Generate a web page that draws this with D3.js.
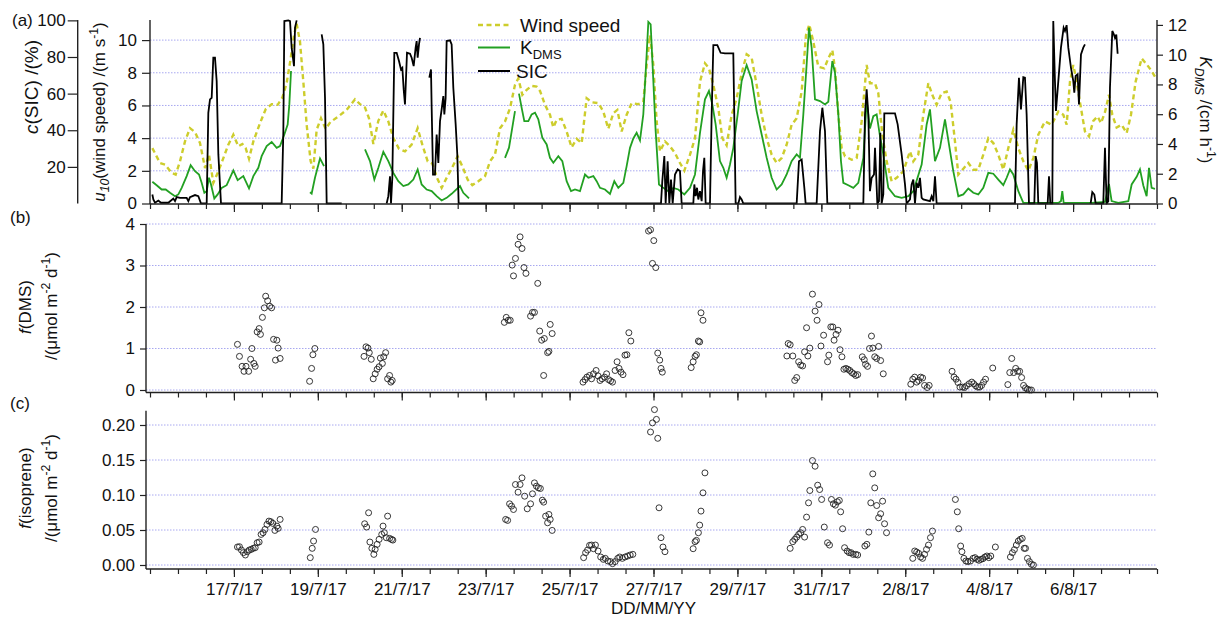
<!DOCTYPE html>
<html>
<head>
<meta charset="utf-8">
<script src="https://cdn.jsdelivr.net/npm/d3@7"></script>
<style>
  body { margin: 0; background: #fff; }
  svg text { font-family: "Liberation Sans", Arial, sans-serif; fill: #111; }
</style>
</head>
<body>
<div id="chart"></div>
<script>
// Days are given as day-of-July (32 = 1 Aug), fractional
var windSpeed = [[15.056,3.39],[15.238,2.48],[15.358,2.38],[15.517,1.87],[15.612,1.77],[15.715,2.58],[15.834,3.80],[15.953,4.61],[16.073,4.37],[16.192,3.70],[16.311,2.17],[16.406,2.99],[16.509,1.26],[16.629,1.97],[16.748,2.78],[16.867,3.60],[16.986,4.21],[17.105,3.50],[17.201,3.64],[17.280,3.39],[17.360,2.74],[17.463,3.80],[17.622,4.92],[17.757,5.77],[17.900,6.08],[18.043,6.04],[18.154,6.48],[18.257,7.36],[18.353,8.88],[18.432,10.30],[18.495,11.0],[18.575,9.90],[18.654,7.46],[18.734,4.82],[18.829,2.58],[18.893,2.13],[18.972,4.51],[19.075,5.22],[19.187,4.57],[19.298,4.98],[19.489,5.33],[19.687,5.73],[19.886,6.38],[20.005,6.08],[20.124,5.87],[20.219,5.22],[20.323,3.64],[20.442,5.06],[20.561,5.69],[20.680,5.02],[20.799,4.00],[20.934,3.35],[21.077,3.19],[21.236,3.60],[21.379,4.61],[21.490,3.60],[21.618,2.58],[21.729,2.44],[21.840,1.57],[21.951,0.96],[22.070,1.57],[22.189,2.13],[22.332,2.89],[22.444,2.28],[22.571,1.46],[22.682,1.12],[22.825,1.36],[22.984,1.67],[23.103,2.58],[23.222,2.99],[23.342,4.61],[23.461,5.02],[23.580,5.83],[23.699,7.26],[23.778,7.66],[23.874,6.65],[23.977,6.95],[24.096,7.20],[24.215,7.15],[24.295,6.89],[24.414,6.04],[24.533,5.43],[24.613,4.65],[24.692,5.12],[24.811,5.18],[24.930,4.41],[25.049,3.43],[25.169,3.96],[25.288,3.70],[25.407,6.44],[25.526,6.20],[25.685,6.14],[25.804,5.63],[25.923,4.57],[26.043,5.53],[26.138,5.73],[26.241,4.41],[26.360,5.43],[26.479,6.14],[26.638,6.08],[26.757,6.20],[26.837,8.48],[26.916,10.3],[26.996,8.48],[27.075,5.02],[27.155,3.19],[27.274,3.80],[27.393,3.50],[27.512,3.09],[27.631,2.48],[27.735,2.01],[27.870,2.99],[27.989,4.00],[28.108,7.46],[28.227,8.58],[28.322,8.27],[28.426,7.26],[28.545,5.83],[28.640,4.00],[28.743,3.56],[28.863,5.43],[28.982,6.44],[29.101,7.97],[29.220,9.13],[29.339,8.92],[29.458,7.26],[29.578,5.43],[29.697,4.00],[29.816,2.99],[29.935,2.48],[30.054,2.78],[30.173,3.60],[30.292,4.82],[30.412,5.22],[30.531,6.85],[30.634,10.30],[30.713,10.96],[30.809,9.90],[30.928,8.37],[31.071,8.27],[31.166,8.88],[31.262,9.39],[31.325,8.27],[31.405,5.43],[31.484,3.39],[31.564,2.89],[31.723,2.68],[31.842,2.78],[31.961,5.02],[32.080,8.48],[32.159,7.36],[32.279,7.36],[32.358,6.75],[32.453,4.21],[32.557,2.58],[32.676,1.36],[32.795,1.57],[32.954,1.97],[33.113,3.19],[33.192,2.58],[33.311,2.99],[33.430,5.43],[33.550,7.36],[33.645,6.65],[33.748,6.04],[33.867,6.75],[33.987,6.85],[34.082,6.20],[34.185,3.80],[34.265,1.77],[34.384,2.13],[34.503,2.48],[34.622,2.07],[34.741,2.07],[34.860,2.99],[34.980,4.00],[35.099,3.70],[35.218,2.99],[35.337,2.07],[35.456,3.39],[35.575,4.51],[35.695,3.39],[35.814,2.58],[35.933,2.01],[36.052,2.78],[36.171,4.21],[36.330,5.02],[36.489,4.82],[36.648,5.63],[36.767,5.43],[36.847,4.82],[36.926,7.46],[37.005,8.48],[37.085,7.46],[37.164,6.20],[37.283,4.41],[37.379,4.11],[37.482,5.06],[37.585,5.33],[37.665,4.92],[37.760,5.59],[37.855,6.65],[37.935,5.43],[38.038,4.65],[38.157,4.82],[38.277,4.31],[38.380,5.43],[38.491,7.46],[38.634,8.88],[38.753,8.52],[38.872,8.11],[38.952,7.76]];

var kDMS = [[15.056,1.46],[15.159,1.23],[15.278,0.94],[15.374,0.94],[15.477,0.72],[15.596,0.49],[15.675,0.61],[15.755,1.05],[15.874,1.84],[15.969,2.58],[16.073,2.17],[16.168,1.95],[16.231,1.39],[16.295,0.72],[16.351,0.83],[16.406,1.73],[16.454,1.28],[16.533,0.34],[16.613,0.61],[16.708,1.05],[16.827,1.23],[16.986,2.22],[17.089,1.57],[17.224,1.84],[17.360,1.01],[17.463,1.84],[17.582,2.40],[17.661,3.18],[17.781,3.86],[17.900,4.13],[18.019,3.74],[18.098,3.86],[18.202,4.64],[18.281,5.31],[18.321,6.66],[18.361,8.90],null,
  [18.813,0.76],[18.853,0.67],[18.932,1.73],[19.052,3.03],[19.147,2.51],null,
  [20.124,3.63],[20.243,2.85],[20.347,1.61],[20.442,2.40],[20.561,3.48],[20.680,2.85],[20.799,2.06],[20.918,1.50],[21.038,1.17],[21.157,1.28],[21.276,1.61],[21.379,2.29],[21.474,1.28],[21.594,0.94],[21.713,0.83],[21.832,0.49],[21.951,0.20],[22.070,0.38],[22.189,0.65],[22.388,1.17],[22.467,0.72],[22.603,0.34],null,
  [23.461,3.07],[23.556,3.75],[23.699,6.21],null,
  [23.794,7.38],[23.858,6.43],[23.921,5.54],[24.017,5.54],[24.096,5.99],[24.176,6.10],[24.255,5.65],[24.350,4.42],[24.454,3.97],[24.533,3.07],[24.613,2.74],[24.732,3.18],[24.827,2.85],[24.930,1.50],[25.034,0.83],[25.129,0.94],[25.248,0.83],[25.367,1.95],[25.447,1.73],[25.566,1.84],[25.645,1.50],[25.725,1.05],[25.844,0.94],[25.963,0.65],[26.066,1.50],[26.161,1.05],[26.281,1.39],[26.360,2.51],[26.440,3.74],[26.519,4.37],[26.598,4.75],[26.678,4.24],[26.757,5.99],[26.837,10.02],[26.877,12.2],[26.932,12.04],[26.996,8.23],[27.051,4.87],[27.131,1.28],[27.234,1.05],[27.353,0.83],[27.473,1.05],[27.592,0.94],[27.735,0.61],[27.870,1.05],[27.989,1.95],[28.108,4.75],[28.227,7.00],[28.322,7.56],[28.402,6.66],[28.481,5.31],[28.584,2.85],[28.664,2.40],[28.743,1.73],[28.823,2.62],[28.902,3.74],[29.006,5.99],[29.101,8.23],[29.220,9.30],[29.339,8.34],[29.458,6.21],[29.578,4.64],[29.697,3.07],[29.816,1.73],[29.935,0.94],[30.054,1.28],[30.173,1.95],[30.292,2.85],[30.412,3.30],[30.491,3.07],[30.571,5.99],[30.650,9.35],[30.706,11.82],[30.769,10.47],[30.849,7.00],[30.968,6.88],[31.087,6.66],[31.166,6.84],[31.262,9.57],[31.325,8.79],[31.405,5.99],[31.468,2.85],[31.524,1.39],[31.643,1.23],[31.762,1.05],[31.881,1.39],[32.001,3.07],[32.080,6.88],[32.159,5.04],[32.239,5.87],[32.318,5.99],[32.398,4.53],[32.477,3.30],[32.596,1.05],[32.755,0.49],[32.914,0.38],[33.073,0.49],[33.192,0.83],[33.391,2.62],[33.510,5.31],[33.589,6.32],[33.709,2.85],[33.828,3.74],[33.947,5.65],[34.042,3.97],[34.145,2.17],[34.265,0.49],[34.384,0.61],[34.503,1.01],[34.622,0.72],[34.741,0.61],[34.860,1.05],[34.980,2.06],[35.099,2.00],[35.218,1.61],[35.337,1.23],[35.417,1.73],[35.496,2.29],[35.575,1.95],[35.695,0.83],[35.814,0.04],[36.171,0.04],[36.648,0.04],[36.711,0.16],[36.743,0.83],[36.775,0.04],[37.442,0.04],[37.760,0.11],[37.855,1.32],[37.919,0.16],[38.078,0.04],[38.316,0.16],[38.396,1.28],[38.515,1.79],[38.594,2.29],[38.674,1.21],[38.753,0.49],[38.809,2.40],[38.872,1.05],[38.952,0.99]];

var seaIce = [[15.056,4.9],[15.080,2.2],[15.119,0.4],[15.199,1.6],[15.262,0.4],[15.437,0.4],[15.556,2.7],[15.596,1.3],[15.636,3.5],[15.715,3.1],[15.874,3.1],[15.914,1.3],[15.953,3.5],[16.073,4.6],[16.152,4.0],[16.216,0],[16.351,0],[16.390,49.5],[16.430,56.8],[16.470,57.7],[16.509,79.6],[16.549,79.6],[16.589,66.8],[16.629,26.8],[16.692,0],[18.138,0],[18.178,39.5],[18.202,99.6],[18.297,100],[18.337,99.6],[18.376,85.1],[18.432,75.0],[18.456,96.0],[18.495,100],null,
  [19.091,92.3],[19.131,86.9],[19.171,57.7],[19.211,0],[19.568,0],null,
  [20.640,0],[20.680,4.0],[20.720,14.9],[20.744,0],[20.775,14.0],[20.823,82.3],[20.879,82.3],[20.934,77.8],[20.982,73.2],[21.014,74.1],[21.046,62.3],[21.077,54.1],[21.125,82.3],[21.197,81.8],[21.236,79.6],[21.284,75.0],[21.331,85.1],[21.355,88.7],[21.379,79.6],[21.411,86.9],[21.435,90.5],null,
  [21.657,68.7],[21.697,73.2],[21.713,52.3],[21.745,15.8],[21.792,15.8],[21.832,37.7],[21.872,22.2],[21.912,45.0],[21.951,51.4],[21.991,58.7],[22.015,48.6],[22.046,57.7],[22.070,88.7],[22.150,89.1],[22.189,86.9],[22.229,63.2],[22.285,43.2],[22.324,26.8],[22.356,0],[27.178,0],[27.210,12.2],[27.258,25.9],[27.290,0],[27.337,23.1],[27.377,0],[27.417,13.1],[27.457,0],[27.512,15.8],[27.576,18.6],[27.631,17.7],[27.671,0],[27.949,0],[27.973,10.4],[28.005,4.0],[28.037,8.6],[28.068,2.2],[28.108,6.7],[28.148,1.3],[28.180,17.7],[28.211,25.0],[28.243,0],[28.346,0],[28.386,48.6],[28.426,86.5],[28.521,86.5],[28.600,82.3],[28.704,82.0],[28.902,82.0],[28.958,0],[29.022,0],[29.061,3.5],[29.101,2.2],[29.141,0],[30.412,0],[30.467,23.1],[30.531,24.0],[30.595,8.6],[30.626,0],[30.888,0],[30.968,39.5],[31.024,52.3],[31.087,39.5],[31.143,0],[32.001,0],[32.040,48.6],[32.080,62.3],[32.120,48.6],[32.159,6.7],[32.199,14.0],[32.255,15.8],[32.279,30.4],[32.303,17.7],[32.334,0],[32.374,1.3],[32.406,38.6],[32.437,0],[32.477,4.9],[32.501,49.2],[32.557,49.2],[32.755,49.2],[32.819,43.2],[32.914,26.8],[32.994,10.4],[33.033,0],[33.113,2.2],[33.152,10.4],[33.192,13.1],[33.232,0],[33.271,11.3],[33.311,8.6],[33.351,14.0],[33.391,3.1],[33.430,2.2],[33.589,1.3],[33.629,4.0],[33.669,1.3],[33.709,14.9],[33.748,0],[35.615,0],[35.655,43.2],[35.710,68.7],[35.758,51.4],[35.814,69.0],[35.853,68.7],[35.893,48.6],[35.949,0],[36.076,0],[36.108,25.9],[36.139,22.2],[36.171,0],[36.394,0],[36.426,14.9],[36.457,0],[36.505,0],[36.528,99.6],[36.568,66.8],[36.592,50.5],[36.648,66.8],[36.711,85.1],[36.775,96.0],[36.807,94.2],[36.846,97.4],[36.886,85.1],[36.950,74.1],[37.005,66.8],[37.029,60.5],[37.061,69.6],[37.108,70.5],[37.140,54.1],[37.188,81.4],[37.243,85.1],[37.283,86.9],null,
  [37.418,0],[37.458,6.2],[37.506,4.9],[37.538,0],[37.720,0],[37.760,30.4],[37.800,0],[37.839,1.3],[37.879,63.2],[37.935,94.2],[37.967,92.7],[37.998,90.5],[38.030,92.3],[38.062,81.8]];

var fluxDMS = [[17.085,1.10],[17.132,0.81],[17.195,0.57],[17.241,0.45],[17.288,0.57],[17.351,0.45],[17.398,0.74],[17.429,1.00],[17.476,0.64],[17.507,0.57],[17.554,1.40],[17.601,1.48],[17.632,1.34],[17.679,1.75],[17.726,1.98],[17.757,2.26],[17.804,2.15],[17.851,2.02],[17.898,1.98],[17.945,1.22],[17.991,0.72],[18.023,1.20],[18.054,1.01],[18.101,0.76],
  [18.804,0.21],[18.851,0.52],[18.882,0.85],[18.929,1.00],
  [20.101,0.81],[20.148,1.04],[20.195,1.01],[20.226,0.90],[20.273,0.74],[20.320,0.27],[20.367,0.39],[20.414,0.50],[20.460,0.56],[20.491,0.77],[20.538,0.64],[20.570,0.80],[20.616,0.90],[20.663,0.27],[20.710,0.35],[20.741,0.19],[20.773,0.23],
  [23.445,1.63],[23.491,1.75],[23.538,1.68],[23.585,1.68],[23.632,3.01],[23.663,2.75],[23.710,3.17],[23.773,3.51],[23.820,3.69],[23.866,3.41],[23.913,2.95],[23.960,2.81],[24.070,1.78],[24.116,1.87],[24.163,1.87],[24.241,2.57],[24.288,1.42],[24.335,1.20],[24.398,1.24],[24.382,0.35],[24.476,0.90],[24.507,0.93],[24.538,1.58],[24.585,1.36],
  [25.320,0.19],[25.367,0.25],[25.413,0.31],[25.476,0.35],[25.523,0.27],[25.570,0.39],[25.632,0.47],[25.679,0.34],[25.726,0.23],[25.773,0.27],[25.835,0.31],[25.882,0.39],[25.929,0.25],[25.976,0.22],[26.023,0.19],[26.085,0.47],[26.132,0.68],[26.179,0.52],[26.226,0.43],[26.273,0.37],[26.320,0.84],[26.366,0.85],[26.413,1.38],[26.460,1.18],
  [26.882,3.83],[26.929,3.86],[27.007,3.60],[26.976,3.05],[27.054,2.95],[27.101,0.89],[27.148,0.72],[27.179,0.52],[27.210,0.43],
  [27.898,0.54],[27.945,0.68],[27.991,0.81],[28.023,0.85],[28.070,1.18],[28.101,1.16],[28.132,1.86],[28.179,1.68],
  [30.179,0.82],[30.210,1.12],[30.257,1.09],[30.320,0.82],[30.366,0.23],[30.413,0.30],[30.460,0.68],[30.507,0.60],[30.554,0.58],[30.601,0.92],[30.648,1.50],[30.679,0.82],[30.726,1.01],[30.788,2.31],[30.851,1.90],[30.898,1.68],[30.944,2.06],[30.991,1.06],[31.054,1.32],[31.148,0.68],[31.179,0.84],[31.226,1.52],[31.273,1.52],[31.304,1.20],[31.351,1.34],[31.398,1.44],[31.445,0.97],[31.491,0.80],[31.538,0.50],[31.585,0.52],[31.632,0.50],[31.679,0.47],[31.726,0.42],[31.773,0.39],[31.820,0.35],[31.866,0.37],[31.976,0.80],[32.023,0.73],[32.054,0.62],[32.101,0.57],[32.148,1.00],[32.195,1.30],[32.226,1.01],[32.273,0.80],[32.320,0.76],[32.366,1.05],[32.413,0.71],[32.476,0.39],
  [33.132,0.14],[33.179,0.26],[33.226,0.31],[33.273,0.19],[33.320,0.23],[33.366,0.31],[33.413,0.29],[33.460,0.11],[33.523,0.06],[33.570,0.11],
  [34.116,0.45],[34.163,0.31],[34.210,0.26],[34.257,0.18],[34.304,0.07],[34.366,0.07],[34.413,0.06],[34.460,0.10],[34.523,0.15],[34.585,0.19],[34.632,0.15],[34.679,0.10],[34.726,0.07],[34.773,0.07],[34.820,0.11],[34.866,0.19],[34.913,0.26],[35.085,0.53],
  [35.445,0.13],[35.491,0.42],[35.538,0.76],[35.585,0.42],[35.632,0.52],[35.679,0.45],[35.726,0.45],[35.773,0.30],[35.820,0.11],[35.866,0.05],[35.913,0.02],[35.960,0.0],[36.007,0.0]];

var fluxIsoprene = [[17.085,0.0257],[17.132,0.0261],[17.179,0.0214],[17.226,0.0176],[17.273,0.0143],[17.320,0.0190],[17.366,0.0214],[17.413,0.0223],[17.460,0.0238],[17.507,0.0247],[17.554,0.0318],[17.601,0.0328],[17.648,0.0437],[17.695,0.0461],[17.741,0.0508],[17.788,0.0580],[17.835,0.0627],[17.882,0.0618],[17.929,0.0594],[17.976,0.0494],[18.023,0.0556],[18.054,0.0523],[18.101,0.0651],
  [18.820,0.0105],[18.866,0.0238],[18.898,0.0342],[18.945,0.0508],
  [20.116,0.0589],[20.163,0.0542],[20.210,0.0746],[20.241,0.0328],[20.288,0.0238],[20.335,0.0152],[20.366,0.0223],[20.413,0.0295],[20.460,0.0366],[20.523,0.0437],[20.554,0.0556],[20.585,0.0461],[20.632,0.0390],[20.663,0.0698],[20.710,0.0380],[20.757,0.0366],[20.788,0.0356],
  [23.476,0.0651],[23.523,0.0637],[23.570,0.0874],[23.616,0.0841],[23.663,0.0793],[23.710,0.1150],[23.773,0.1040],[23.820,0.1150],[23.866,0.1245],[23.929,0.0983],[23.991,0.0803],[24.070,0.0874],[24.116,0.1017],[24.163,0.1173],[24.210,0.1126],[24.257,0.1102],[24.304,0.1093],[24.351,0.0926],[24.382,0.0898],[24.429,0.0698],[24.476,0.0603],[24.507,0.0722],[24.538,0.0651],[24.585,0.0494],
  [25.335,0.0105],[25.382,0.0176],[25.429,0.0214],[25.476,0.0280],[25.523,0.0285],[25.570,0.0233],[25.616,0.0285],[25.679,0.0200],[25.741,0.0114],[25.804,0.0081],[25.851,0.0095],[25.913,0.0057],[25.976,0.0048],[26.023,0.0019],[26.085,0.0048],[26.148,0.0095],[26.195,0.0114],[26.257,0.0095],[26.320,0.0114],[26.382,0.0128],[26.445,0.0143],[26.507,0.0152],
  [26.929,0.190],[26.976,0.203],[27.023,0.222],[27.070,0.208],[27.101,0.181],[27.132,0.0817],[27.179,0.0390],[27.226,0.0257],[27.273,0.0190],
  [27.945,0.0233],[27.991,0.0333],[28.023,0.0352],[28.070,0.0461],[28.101,0.0570],[28.132,0.0770],[28.179,0.1031],[28.226,0.1316],
  [30.257,0.0238],[30.320,0.0333],[30.366,0.0366],[30.413,0.0399],[30.460,0.0437],[30.507,0.0461],[30.554,0.0508],[30.601,0.0399],[30.648,0.0684],[30.695,0.0888],[30.726,0.1064],[30.788,0.1492],[30.851,0.1411],[30.913,0.1140],[30.960,0.1078],[31.007,0.0936],[31.070,0.0542],[31.148,0.0318],[31.195,0.0285],[31.241,0.0936],[31.288,0.0874],[31.335,0.0855],[31.382,0.0903],[31.429,0.0922],[31.460,0.0760],[31.507,0.0518],[31.554,0.0247],[31.616,0.0200],[31.663,0.0176],[31.710,0.0176],[31.757,0.0152],[31.820,0.0152],[31.866,0.0143],[32.038,0.0271],[32.085,0.0295],[32.132,0.0470],[32.179,0.0888],[32.226,0.1302],[32.273,0.1102],[32.320,0.0850],[32.366,0.0675],[32.413,0.0732],[32.460,0.0912],[32.507,0.0589],[32.554,0.0461],
  [33.179,0.0095],[33.226,0.0200],[33.273,0.0185],[33.320,0.0166],[33.366,0.0114],[33.413,0.0095],[33.460,0.0152],[33.507,0.0223],[33.554,0.0285],[33.601,0.0390],[33.648,0.0485],
  [34.195,0.0936],[34.241,0.0760],[34.273,0.0518],[34.320,0.0271],[34.351,0.0190],[34.398,0.0095],[34.445,0.0057],[34.491,0.0048],[34.554,0.0057],[34.616,0.0095],[34.663,0.0105],[34.710,0.0081],[34.757,0.0067],[34.804,0.0081],[34.851,0.0090],[34.898,0.0114],[34.945,0.0128],[34.991,0.0105],[35.038,0.0128],[35.148,0.0257],
  [35.507,0.0114],[35.554,0.0176],[35.601,0.0219],[35.648,0.0285],[35.695,0.0342],[35.741,0.0366],[35.788,0.0380],[35.835,0.0238],[35.866,0.0238],[35.913,0.0095],[35.960,0.0048],[36.007,0.0010],[36.054,0.0]];

var windTicks = [0, 2, 4, 6, 8, 10];
var sicTicks = [20, 40, 60, 80, 100];
var kTicks = [0, 2, 4, 6, 8, 10, 12];
var dmsTicks = [0, 1, 2, 3, 4];
var isoTicks = [0, 0.05, 0.10, 0.15, 0.20];
var dateLabelDays = [17, 19, 21, 23, 25, 27, 29, 31, 33, 35, 37];

var svgWidth = 1220, svgHeight = 619;
var svg = d3.select("#chart").append("svg")
    .attr("width", svgWidth)
    .attr("height", svgHeight);

function toDate(day) {
    return new Date(2017, 6, 1, 0, 0).getTime() + (day - 1) * 864e5;
}

var left = 150, right = 1157;
var x = d3.scaleTime()
    .domain([new Date(toDate(15)), new Date(toDate(39))])
    .range([left, right]);

// minor ticks every 16 h, major every 2 days
var minorTicks = d3.range(0, 37).map(k => new Date(toDate(15) + k * 16 * 36e5));
var majorTicks = dateLabelDays.map(d => new Date(toDate(d)));

var gridColor = "#a8a8f0";
var axisColor = "#222";
var fontSize = 17;

function styleAxis(g) {
    g.selectAll("line").attr("stroke", axisColor).attr("stroke-width", 1.2);
    g.selectAll("text").attr("font-size", fontSize).attr("fill", "#111")
        .style("font-family", '"Liberation Sans", Arial, sans-serif');
}

function grid(scale, ticks, x0, x1) {
    svg.append("g").selectAll("line").data(ticks).enter().append("line")
        .attr("x1", x0).attr("x2", x1)
        .attr("y1", d => scale(d)).attr("y2", d => scale(d))
        .attr("stroke", gridColor).attr("stroke-width", 1)
        .attr("stroke-dasharray", "1.5,1.5");
}

function bottomAxis(y, x0, withLabels) {
    svg.append("line").attr("x1", x0).attr("x2", right).attr("y1", y).attr("y2", y)
        .attr("stroke", axisColor).attr("stroke-width", 1.4);
    var minor = svg.append("g").attr("transform", `translate(0,${y})`)
        .call(d3.axisBottom(x).tickValues(minorTicks).tickSize(5).tickFormat(""));
    minor.select(".domain").remove();
    styleAxis(minor);
    var major = svg.append("g").attr("transform", `translate(0,${y})`)
        .call(d3.axisBottom(x).tickValues(majorTicks).tickSize(8).tickPadding(6)
            .tickFormat(withLabels ? d3.timeFormat("%-d/%-m/%y") : ""));
    major.select(".domain").remove();
    styleAxis(major);
}

function leftAxis(scale, ticks, xPos, y0, y1, tickLen, pad, fmt) {
    svg.append("line").attr("x1", xPos).attr("x2", xPos).attr("y1", y0).attr("y2", y1)
        .attr("stroke", axisColor).attr("stroke-width", 1.4);
    var g = svg.append("g").attr("transform", `translate(${xPos},0)`)
        .call(d3.axisLeft(scale).tickValues(ticks).tickSize(tickLen).tickPadding(pad)
            .tickFormat(fmt || d3.format("d")));
    g.select(".domain").remove();
    styleAxis(g);
}

// ---------- Panel (a) ----------
var aTop = 20, aBottom = 203.5;
var yWind = d3.scaleLinear().domain([0, 11.23]).range([aBottom, aTop]);
var ySIC = d3.scaleLinear().domain([0, 100.2]).range([aBottom, aTop]);
var yK = d3.scaleLinear().domain([0, 12.33]).range([aBottom, aTop]);

grid(yWind, windTicks.slice(1), left, right);

svg.append("defs").append("clipPath").attr("id", "clipA")
    .append("rect").attr("x", left).attr("y", aTop - 2)
    .attr("width", right - left).attr("height", aBottom - aTop + 3);

var plotA = svg.append("g").attr("clip-path", "url(#clipA)");

var lineWind = d3.line().x(d => x(new Date(toDate(d[0])))).y(d => yWind(d[1]));
var lineK = d3.line().defined(d => d !== null)
    .x(d => x(new Date(toDate(d[0])))).y(d => yK(d[1]));
var lineSIC = d3.line().defined(d => d !== null)
    .x(d => x(new Date(toDate(d[0])))).y(d => ySIC(d[1]));

plotA.append("path").datum(windSpeed).attr("d", lineWind)
    .attr("fill", "none").attr("stroke", "#cdcd2c").attr("stroke-width", 2.4)
    .attr("stroke-dasharray", "5,3.5");
plotA.append("path").datum(kDMS).attr("d", lineK)
    .attr("fill", "none").attr("stroke", "#22a022").attr("stroke-width", 1.8);
plotA.append("path").datum(seaIce).attr("d", lineSIC)
    .attr("fill", "none").attr("stroke", "#000").attr("stroke-width", 1.8);

leftAxis(yWind, windTicks, left, aTop, aBottom + 0.5, 8, 5);
leftAxis(ySIC, sicTicks, 77.7, aTop, aBottom, 10, 2);

// right axis
svg.append("line").attr("x1", right).attr("x2", right).attr("y1", aTop).attr("y2", aBottom)
    .attr("stroke", axisColor).attr("stroke-width", 1.4);
var gk = svg.append("g").attr("transform", `translate(${right},0)`)
    .call(d3.axisRight(yK).tickValues(kTicks).tickSize(6).tickPadding(5));
gk.select(".domain").remove();
styleAxis(gk);

bottomAxis(aBottom + 0.5, left, false);

// legend
var legend = [
    {label: "Wind speed", color: "#cdcd2c", dash: "5,3.5", w: 2.4, y: 25, tx: 520},
    {label: "K", sub: "DMS", color: "#22a022", dash: null, w: 2, y: 47.5, tx: 520},
    {label: "SIC", color: "#000", dash: null, w: 2, y: 71, tx: 516}
];
legend.forEach(function(l) {
    svg.append("line").attr("x1", 478).attr("x2", 510).attr("y1", l.y).attr("y2", l.y)
        .attr("stroke", l.color).attr("stroke-width", l.w)
        .attr("stroke-dasharray", l.dash);
    var t = svg.append("text").attr("x", l.tx).attr("y", l.y + 6.5).attr("font-size", 19);
    t.append("tspan").text(l.label);
    if (l.sub) t.append("tspan").attr("font-size", 13).attr("dy", 5).text(l.sub);
});

// ---------- Panel (b) ----------
var yDMS = d3.scaleLinear().domain([0, 4]).range([390, 224]);
grid(yDMS, dmsTicks, 146, right);
leftAxis(yDMS, dmsTicks, 146, 224, 392.5, 6, 5);
bottomAxis(392.5, 146, false);

svg.append("g").selectAll("circle").data(fluxDMS).enter().append("circle")
    .attr("cx", d => x(new Date(toDate(d[0]))))
    .attr("cy", d => yDMS(d[1]))
    .attr("r", 3)
    .attr("fill", "none").attr("stroke", "#222").attr("stroke-width", 0.9);

// ---------- Panel (c) ----------
var yIso = d3.scaleLinear().domain([0, 0.2]).range([565, 425]);
grid(yIso, isoTicks, 146, right);
leftAxis(yIso, isoTicks, 146, 410.7, 569, 6, 5, d3.format(".2f"));
bottomAxis(569, 146, true);

svg.append("g").selectAll("circle").data(fluxIsoprene).enter().append("circle")
    .attr("cx", d => x(new Date(toDate(d[0]))))
    .attr("cy", d => yIso(d[1]))
    .attr("r", 3)
    .attr("fill", "none").attr("stroke", "#222").attr("stroke-width", 0.9);

// ---------- Labels ----------
// parts: t = text, i = italic, small = smaller size, dy = baseline shift
function label(xp, yp, rot, parts, size) {
    var base = size || fontSize;
    var t = svg.append("text")
        .attr("transform", `translate(${xp},${yp}) rotate(${rot})`)
        .attr("text-anchor", "middle")
        .attr("font-size", base);
    parts.forEach(function(p) {
        var s = t.append("tspan").text(p.t);
        if (p.i) s.attr("font-style", "italic");
        if (p.small) s.attr("font-size", base * 0.72);
        if (p.dy) s.attr("dy", p.dy);
    });
    return t;
}

svg.append("text").attr("x", 12).attr("y", 26).attr("font-size", fontSize).text("(a)");
svg.append("text").attr("x", 10).attr("y", 223).attr("font-size", fontSize).text("(b)");
svg.append("text").attr("x", 10).attr("y", 409).attr("font-size", fontSize).text("(c)");

label(38, 87, -90, [{t: "c", i: true}, {t: "(SIC) /(%)"}], 19);
label(105, 112, -90, [{t: "u", i: true}, {t: "10", i: true, small: true, dy: 4},
    {t: "(wind speed) /(m s", dy: -4}, {t: "-1", small: true, dy: -7}, {t: ")", dy: 7}]);
label(1200, 110, 90, [{t: "K", i: true}, {t: "DMS", i: true, small: true, dy: 5},
    {t: " /(cm h", dy: -5}, {t: "-1", small: true, dy: -7}, {t: ")", dy: 7}]);

var unitParts = [{t: "/(μmol m"}, {t: "-2", small: true, dy: -7}, {t: " d", dy: 7},
    {t: "-1", small: true, dy: -7}, {t: ")", dy: 7}];
label(31, 307, -90, [{t: "f", i: true}, {t: "(DMS)"}]);
label(57, 306, -90, unitParts);
label(31, 488, -90, [{t: "f", i: true}, {t: "(isoprene)"}]);
label(57, 488, -90, unitParts);

svg.append("text").attr("x", (left + right) / 2).attr("y", 614)
    .attr("text-anchor", "middle").attr("font-size", fontSize).text("DD/MM/YY");
</script>
</body>
</html>
